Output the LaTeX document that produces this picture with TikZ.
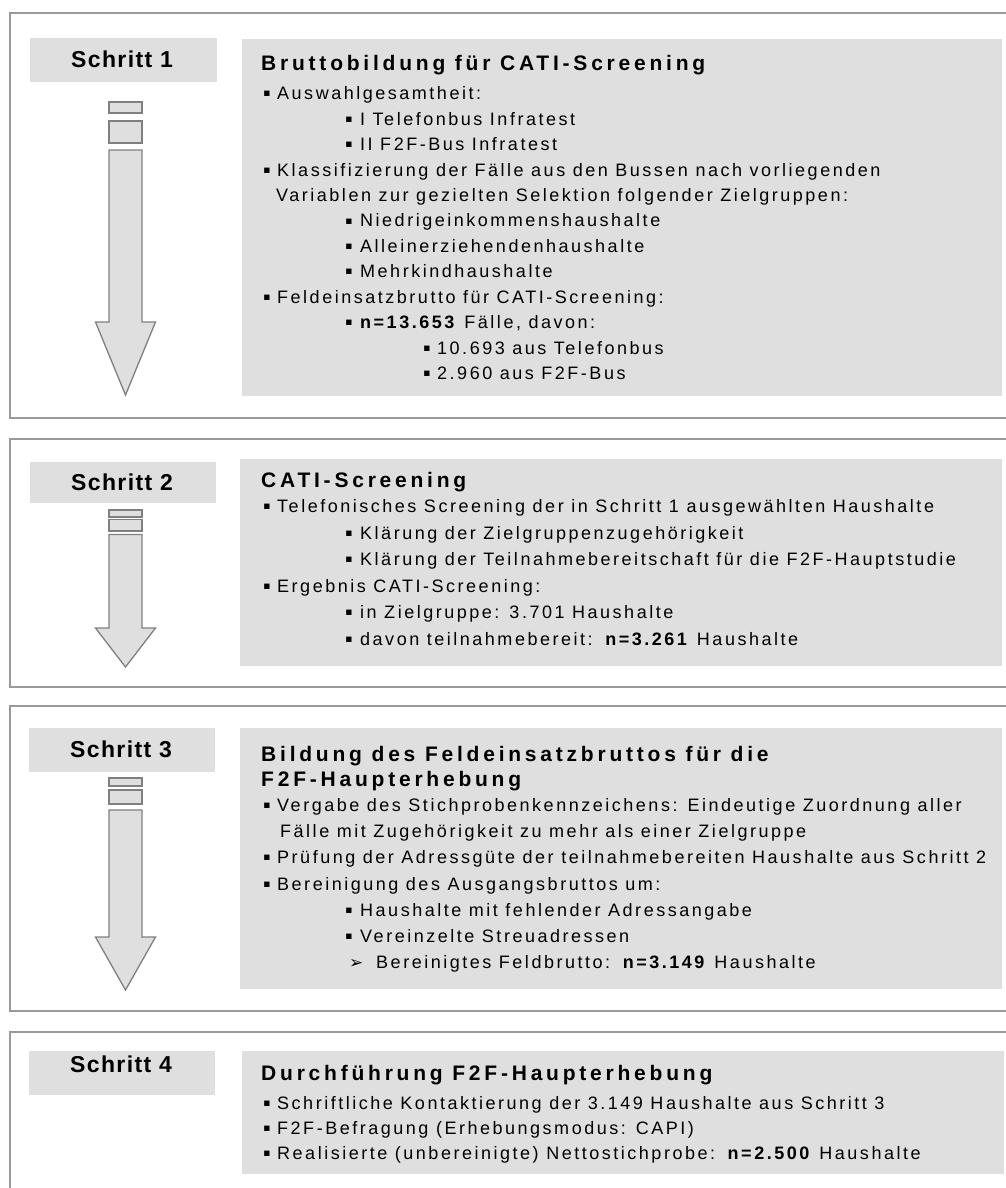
\documentclass[tikz,border=0pt]{standalone}
\usepackage{fontspec}
\setmainfont{Liberation Sans}
\newfontfamily\bodyf{Liberation Sans}[LetterSpace=14]
\newfontfamily\headf{Liberation Sans}[LetterSpace=18]
\newfontfamily\stepf{Liberation Sans}[LetterSpace=6]
\newfontfamily\symf{DejaVu Sans}
\definecolor{framegray}{RGB}{153,153,153}
\definecolor{boxgray}{RGB}{223,223,223}
\definecolor{arrowgray}{RGB}{128,128,128}
\newcommand\bul[1]{\makebox[#1pt][l]{\raisebox{-1.2pt}{\scalebox{1.2}{▪}}}}
\begin{document}
\begin{tikzpicture}[x=1pt,y=-1pt,
  frame/.style={draw=framegray, line width=2pt},
  boxfill/.style={fill=boxgray, draw=none, inner sep=0pt, anchor=north west},
  body/.style={anchor=base west, inner sep=0pt, font=\bodyf\fontsize{18}{21}\selectfont},
  head/.style={anchor=base west, inner sep=0pt, font=\headf\bfseries\fontsize{21}{25}\selectfont},
  steplbl/.style={inner sep=0pt, font=\stepf\bfseries\fontsize{23}{27}\selectfont},
  arrowpart/.style={fill=boxgray, draw=arrowgray, line width=1.3pt, line join=miter}]
\useasboundingbox (0,0) rectangle (1006,1188);
\fill[white] (0,0) rectangle (1006,1188);
\clip (0,0) rectangle (1006,1188);

% ---------- panel frames ----------
\draw[frame] (1030,13) -| (10,418) -- (1030,418);
\draw[frame] (1030,439) -| (10,687) -- (1030,687);
\draw[frame] (1030,706) -| (10,1011) -- (1030,1011);
\draw[frame] (1030,1032) -| (10,1200);

% ---------- step label boxes ----------
\node[boxfill, minimum width=187pt, minimum height=44pt] (s1) at (30,38) {};
\node[boxfill, minimum width=186pt, minimum height=41pt] (s2) at (30,462) {};
\node[boxfill, minimum width=186pt, minimum height=44pt] (s3) at (29,728) {};
\node[boxfill, minimum width=186pt, minimum height=44pt] (s4) at (29,1051) {};
\node[steplbl] (s1t) at (122,59) {Schritt 1};
\node[steplbl] (s2t) at (122,482) {Schritt 2};
\node[steplbl] (s3t) at (121,749) {Schritt 3};
\node[steplbl] (s4t) at (121,1064) {Schritt 4};

% ---------- content boxes ----------
\node[boxfill, minimum width=760pt, minimum height=357pt] (c1) at (242,39) {};
\node[boxfill, minimum width=762pt, minimum height=207pt] (c2) at (240,459) {};
\node[boxfill, minimum width=762pt, minimum height=261pt] (c3) at (240,728) {};
\node[boxfill, minimum width=762pt, minimum height=123pt] (c4) at (242,1051) {};

% ---------- arrows ----------
\draw[arrowpart] (109,102) rectangle (142,113);
\draw[arrowpart] (109,121) rectangle (142,143);
\draw[arrowpart] (109,150) -- (142,150) -- (142,322) -- (155.5,322) -- (125.5,395) -- (95.5,322) -- (109,322) -- cycle;

\draw[arrowpart] (109,510) rectangle (142,517);
\draw[arrowpart] (109,519.5) rectangle (142,531);
\draw[arrowpart] (109,534.5) -- (142,534.5) -- (142,628) -- (155.5,628) -- (125.5,667) -- (95.5,628) -- (109,628) -- cycle;

\draw[arrowpart] (109,778) rectangle (142,786);
\draw[arrowpart] (109,790) rectangle (142,804);
\draw[arrowpart] (109,810) -- (142,810) -- (142,937) -- (155.5,937) -- (125.5,990) -- (95.5,937) -- (109,937) -- cycle;

% ---------- panel 1 text ----------
\node[head] (t1) at (261,71) {Bruttobildung für CATI-Screening};
\node[body] (a1) at (263,99.5) {\bul{14}Auswahlgesamtheit:};
\node[body] (a2) at (345,125) {\bul{15}I Telefonbus Infratest};
\node[body] (a3) at (345,150.5) {\bul{15}II F2F-Bus Infratest};
\node[body] (a4) at (263,176) {\bul{14}Klassifizierung der Fälle aus den Bussen nach vorliegenden};
\node[body] (a5) at (276,201.4) {Variablen zur gezielten Selektion folgender Zielgruppen:};
\node[body] (a6) at (345,226.8) {\bul{15}Niedrigeinkommenshaushalte};
\node[body] (a7) at (345,252.2) {\bul{15}Alleinerziehendenhaushalte};
\node[body] (a8) at (345,277.7) {\bul{15}Mehrkindhaushalte};
\node[body] (a9) at (263,303.1) {\bul{14}Feldeinsatzbrutto für CATI-Screening:};
\node[body] (a10) at (345,328.5) {\bul{15}\textbf{n=13.653} Fälle, davon:};
\node[body] (a11) at (423,354) {\bul{14}10.693 aus Telefonbus};
\node[body] (a12) at (423,379.5) {\bul{14}2.960 aus F2F-Bus};

% ---------- panel 2 text ----------
\node[head] (t2) at (261,487) {CATI-Screening};
\node[body] (b1) at (263,512.5) {\bul{14}Telefonisches Screening der in Schritt 1 ausgewählten Haushalte};
\node[body] (b2) at (345,539) {\bul{15}Klärung der Zielgruppenzugehörigkeit};
\node[body] (b3) at (345,565.5) {\bul{15}Klärung der Teilnahmebereitschaft für die F2F-Hauptstudie};
\node[body] (b4) at (263,592) {\bul{14}Ergebnis CATI-Screening:};
\node[body] (b5) at (345,618.5) {\bul{15}in Zielgruppe: 3.701 Haushalte};
\node[body] (b6) at (345,645) {\bul{15}davon teilnahmebereit: \textbf{n=3.261} Haushalte};

% ---------- panel 3 text ----------
\node[head] (t3a) at (261,761) {Bildung des Feldeinsatzbruttos für die};
\node[head] (t3b) at (261,786) {F2F-Haupterhebung};
\node[body] (d1) at (263,811.5) {\bul{14}Vergabe des Stichprobenkennzeichens: Eindeutige Zuordnung aller};
\node[body] (d2) at (280,837.5) {Fälle mit Zugehörigkeit zu mehr als einer Zielgruppe};
\node[body] (d3) at (263,863.5) {\bul{14}Prüfung der Adressgüte der teilnahmebereiten Haushalte aus Schritt 2};
\node[body] (d4) at (263,890) {\bul{14}Bereinigung des Ausgangsbruttos um:};
\node[body] (d5) at (345,916) {\bul{15}Haushalte mit fehlender Adressangabe};
\node[body] (d6) at (345,942) {\bul{15}Vereinzelte Streuadressen};
\node[body] (d7) at (349,968) {\makebox[27pt][l]{\symf\fontsize{17}{20}\selectfont ➢}Bereinigtes Feldbrutto: \textbf{n=3.149} Haushalte};

% ---------- panel 4 text ----------
\node[head] (t4) at (261,1080) {Durchführung F2F-Haupterhebung};
\node[body] (e1) at (263,1109) {\bul{14}Schriftliche Kontaktierung der 3.149 Haushalte aus Schritt 3};
\node[body] (e2) at (263,1134) {\bul{14}F2F-Befragung (Erhebungsmodus: CAPI)};
\node[body] (e3) at (263,1159) {\bul{14}Realisierte (unbereinigte) Nettostichprobe: \textbf{n=2.500} Haushalte};
\end{tikzpicture}
\end{document}
